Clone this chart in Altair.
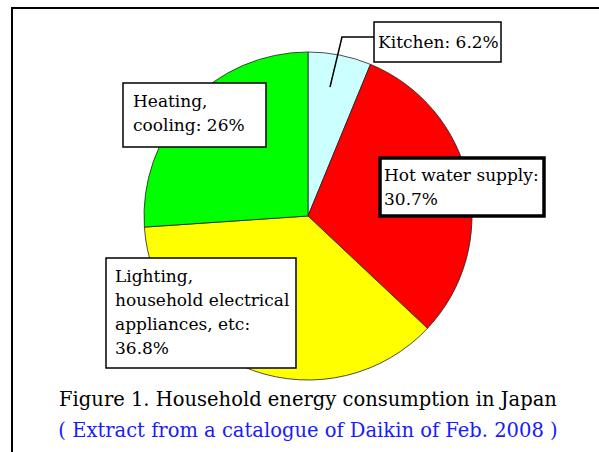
import altair as alt
import pandas as pd

# ---- data ----
categories = ["Kitchen", "Hot water supply",
              "Lighting, household electrical appliances, etc", "Heating, cooling"]
shares = [6.2, 30.7, 36.8, 26.0]
slice_colors = ["#ccffff", "#ff0000", "#ffff00", "#00ff00"]
label_lines = [
    ["Kitchen: 6.2%"],
    ["Hot water supply:", "30.7%"],
    ["Lighting,", "household electrical", "appliances, etc:", "36.8%"],
    ["Heating,", "cooling: 26%"],
]
title_text = "Figure 1. Household energy consumption in Japan"
source_text = "( Extract from a catalogue of Daikin of Feb. 2008 )"

# ---- layout (pixels) ----
W, H = 599, 452
cx, cy, R = 308, 216, 164
box_left = [374, 380, 106, 123]
box_top = [22, 158, 258, 83]
box_right = [501, 544, 296, 266]
box_bottom = [62, 216, 368, 147]
box_stroke = [1.5, 3.5, 1.5, 1.5]
text_left = [378, 384, 115, 133]
text_first_baseline = [48, 181, 282, 107]
line_step = 24
leader_x = [374, 342, 330]
leader_y = [37, 37, 87]
FONT = "DejaVu Serif"

xs = alt.Scale(domain=[0, W], range=[0, W], nice=False, zero=False)
ys = alt.Scale(domain=[0, H], range=[0, H], nice=False, zero=False)

pie_df = pd.DataFrame({"category": categories, "share": shares,
                       "order": list(range(len(categories)))})
pie = alt.Chart(pie_df).mark_arc(outerRadius=R, stroke="#222222", strokeWidth=0.8).encode(
    theta=alt.Theta("share:Q", stack=True),
    color=alt.Color("category:N", scale=alt.Scale(domain=categories, range=slice_colors), legend=None),
    order=alt.Order("order:Q"),
    x=alt.value(cx), y=alt.value(cy),
)

box_df = pd.DataFrame({"x0": box_left, "x1": box_right, "y0": box_top, "y1": box_bottom, "sw": box_stroke})
boxes = alt.Chart(box_df).mark_rect(fill="white", stroke="black").encode(
    x=alt.X("x0:Q", scale=xs, axis=None), x2="x1",
    y=alt.Y("y0:Q", scale=ys, axis=None), y2="y1",
    strokeWidth=alt.StrokeWidth("sw:Q", scale=None),
)

rows = []
for i, lines in enumerate(label_lines):
    for j, t in enumerate(lines):
        rows.append({"x": text_left[i], "y": text_first_baseline[i] + j * line_step, "t": t})
text_df = pd.DataFrame(rows)
texts = alt.Chart(text_df).mark_text(align="left", baseline="alphabetic", font=FONT,
                                      fontSize=17, color="black").encode(
    x=alt.X("x:Q", scale=xs, axis=None), y=alt.Y("y:Q", scale=ys, axis=None), text="t:N")

leader_df = pd.DataFrame({"x": leader_x, "y": leader_y, "o": [0, 1, 2]})
leader = alt.Chart(leader_df).mark_line(color="black", strokeWidth=1.5).encode(
    x=alt.X("x:Q", scale=xs, axis=None), y=alt.Y("y:Q", scale=ys, axis=None), order="o:Q")

border_top = alt.Chart(pd.DataFrame({"a": [0]})).mark_rule(color="black", strokeWidth=2).encode(
    x=alt.value(11), x2=alt.value(W), y=alt.value(8))
border_left = alt.Chart(pd.DataFrame({"a": [0]})).mark_rule(color="black", strokeWidth=2).encode(
    x=alt.value(12), y=alt.value(8), y2=alt.value(H))

cap1 = alt.Chart(pd.DataFrame({"t": [title_text]})).mark_text(
    align="center", baseline="alphabetic", font=FONT, fontSize=19.5, color="black").encode(
    text="t:N", x=alt.value(308), y=alt.value(406))
cap2 = alt.Chart(pd.DataFrame({"t": [source_text]})).mark_text(
    align="center", baseline="alphabetic", font=FONT, fontSize=19.5, color="#1a1aff").encode(
    text="t:N", x=alt.value(308), y=alt.value(437))

chart = alt.layer(pie, boxes, texts, leader, border_top, border_left, cap1, cap2).properties(
    width=W, height=H, padding=0, autosize=alt.AutoSizeParams(type="none"), background="white"
).configure_view(stroke=None)

chart.save("out.html", embed_options={"renderer": "svg", "actions": False})
